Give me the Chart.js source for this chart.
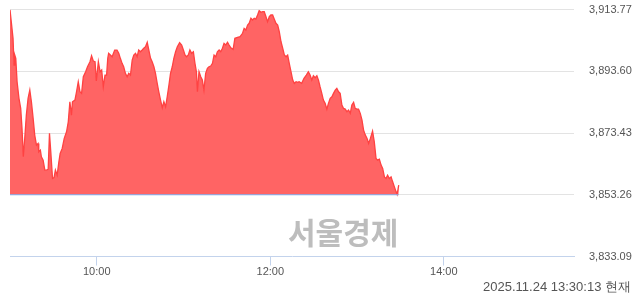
<!DOCTYPE html>
<html>
<head>
<meta charset="utf-8">
<script src="https://cdn.jsdelivr.net/npm/chart.js@4"></script>
<style>
  body { margin: 0; background: #fff; }
  #wrap { position: relative; width: 640px; height: 294px; }
  #mark {
    position: absolute; left: 288px; top: 209px;
    font: bold 30px "Noto Sans CJK KR", sans-serif; color: #bdbdbd;
  }
  #stamp {
    position: absolute; right: 9px; top: 278px;
    font: 13px "Liberation Sans", Arial, sans-serif; color: #555;
  }
</style>
</head>
<body>
<div id="wrap">
  <canvas id="kospiChart" width="640" height="294"></canvas>
  <div id="mark">서울경제</div>
  <div id="stamp">2025.11.24 13:30:13 현재</div>
</div>
<script>
// minutes since 09:00
const times = [0, 2.1, 2.8, 3.3, 4.0, 4.9, 6.2, 7.4, 8.3, 9.2, 10.2, 11.3, 12.5, 13.7, 14.8, 16.0, 17.1, 18.3, 19.4, 19.9,
  21.0, 21.7, 22.9, 24.1, 25.2, 26.4, 27.3, 28.2, 29.4, 30.5, 31.4, 32.6, 33.8, 34.7, 36.1, 37.5, 39.1, 40.3, 41.4, 42.5,
  43.2, 44.9, 46.0, 47.2, 48.4, 49.5, 50.7, 52.3, 53.6, 55.3, 56.4, 57.6, 58.8, 59.7, 61.1, 62.3, 63.4, 64.5, 65.7, 66.8,
  67.6, 68.2, 69.4, 70.6, 72.4, 74.0, 75.2, 76.3, 77.5, 78.6, 79.8, 81.0, 82.1, 83.3, 84.5, 85.6, 86.8, 87.9, 89.0, 90.2,
  91.4, 92.5, 93.7, 94.9, 96.0, 97.2, 98.3, 99.5, 100.6, 101.8, 102.9, 104.1, 105.3, 106.4, 107.6, 108.7, 109.9, 111.0, 112.2, 113.3,
  114.5, 115.7, 117.3, 118.7, 119.9, 121.0, 122.1, 123.3, 124.4, 125.6, 126.8, 127.9, 128.9, 129.6, 130.7, 131.9, 133.0, 134.1, 135.3, 136.5,
  137.6, 138.8, 140.0, 141.1, 142.3, 143.4, 144.6, 145.7, 146.9, 148.0, 149.2, 150.4, 151.5, 152.7, 154.3, 155.5, 157.3, 159.1, 160.8, 161.9,
  163.1, 164.3, 165.4, 166.6, 167.7, 168.9, 170.0, 171.2, 172.3, 173.5, 174.7, 175.8, 177.0, 178.1, 179.3, 180.4, 181.6, 182.7, 183.9, 185.1,
  186.2, 187.4, 188.6, 189.7, 190.9, 192.0, 193.1, 194.3, 195.5, 196.6, 197.8, 199.0, 199.9, 201.7, 203.3, 204.9, 206.3, 207.5, 208.7, 209.8,
  211.0, 212.2, 213.3, 214.4, 215.6, 216.7, 217.9, 219.1, 220.2, 221.4, 222.6, 223.7, 224.9, 226.0, 227.2, 228.3, 229.5, 230.6, 231.8, 233.0,
  234.1, 235.3, 236.4, 237.6, 238.7, 239.9, 241.0, 242.2, 243.4, 244.5, 245.7, 246.9, 248.0, 249.2, 250.7, 251.9, 253.1, 254.2, 255.4, 256.6,
  257.7, 258.9, 260.0, 261.1, 262.3, 263.5, 264.6, 265.8, 267.0, 267.7, 268.8];

const kospi = [3913.7, 3904.36, 3895.63, 3898.90, 3897.82, 3890.17, 3884.74, 3881.47, 3874.93, 3865.65, 3871.67, 3879.28, 3884.74, 3887.45, 3883.63, 3878.20, 3872.74, 3869.48, 3870.03, 3867.28,
  3867.84, 3865.65, 3864.57, 3861.30, 3861.30, 3861.60, 3873.30, 3867.28, 3858.59, 3858.90, 3861.30, 3859.67, 3864.02, 3866.76, 3868.40, 3871.67, 3873.82, 3877.09, 3883.63, 3879.28,
  3883.63, 3884.19, 3886.90, 3890.17, 3886.90, 3886.38, 3891.80, 3893.44, 3895.07, 3896.71, 3898.67, 3896.93, 3896.71, 3890.40, 3896.71, 3893.44, 3893.99, 3888.53, 3892.36, 3892.36,
  3897.82, 3899.45, 3898.90, 3898.34, 3900.53, 3900.53, 3899.45, 3897.82, 3896.18, 3895.07, 3892.91, 3891.80, 3892.91, 3892.36, 3897.26, 3898.90, 3899.45, 3898.34, 3900.53, 3899.97,
  3900.53, 3901.09, 3901.61, 3903.05, 3900.53, 3897.82, 3896.71, 3895.07, 3892.91, 3889.64, 3886.90, 3884.19, 3881.67, 3883.63, 3882.00, 3885.26, 3889.09, 3892.91, 3895.07, 3897.82,
  3899.97, 3901.61, 3902.92, 3902.17, 3900.53, 3898.90, 3898.34, 3898.90, 3900.53, 3899.45, 3899.97, 3896.18, 3893.44, 3886.90, 3893.44, 3891.80, 3890.72, 3887.45, 3892.91, 3894.55,
  3895.07, 3895.30, 3896.18, 3898.90, 3898.34, 3899.97, 3900.53, 3899.97, 3901.09, 3902.72, 3902.17, 3903.05, 3902.17, 3901.28, 3900.76, 3904.36, 3904.68, 3904.88, 3905.99, 3907.62,
  3907.07, 3908.70, 3909.26, 3910.89, 3910.34, 3910.89, 3910.66, 3911.97, 3913.38, 3912.85, 3913.05, 3913.05, 3911.42, 3909.78, 3911.42, 3911.97, 3911.97, 3910.66, 3909.26, 3908.70,
  3906.51, 3903.24, 3901.09, 3898.90, 3898.34, 3898.90, 3896.18, 3893.44, 3890.72, 3889.64, 3890.17, 3889.97, 3890.17, 3889.64, 3891.28, 3892.36, 3893.44, 3892.36, 3890.72, 3892.13,
  3891.48, 3892.13, 3890.72, 3888.53, 3886.38, 3884.19, 3883.11, 3881.24, 3883.11, 3884.74, 3885.26, 3886.38, 3887.45, 3888.01, 3886.90, 3886.38, 3882.55, 3881.47, 3881.24, 3880.36,
  3880.92, 3879.84, 3882.55, 3883.43, 3881.47, 3881.24, 3881.24, 3879.84, 3877.65, 3874.38, 3872.74, 3871.67, 3870.03, 3871.67, 3874.05, 3870.55, 3865.13, 3864.57, 3864.90, 3862.94,
  3861.86, 3859.11, 3858.59, 3859.67, 3858.59, 3859.11, 3857.48, 3855.84, 3854.21, 3853.36, 3856.40];

const prevClose = 3853.26;
const yTicks = [3833.09, 3853.26, 3873.43, 3893.60, 3913.77];
const xTicks = [60, 180, 300];
const xLabels = ['10:00', '12:00', '14:00'];

const points = times.map((t, i) => ({ x: t, y: kospi[i] }));
const baseline = [{ x: times[0], y: prevClose }, { x: times[times.length - 1], y: prevClose }];

const ctx = document.getElementById('kospiChart').getContext('2d');
new Chart(ctx, {
    type: 'line',
    data: {
        datasets: [{
            data: baseline,
            borderColor: '#7eaef0',
            borderWidth: 1,
            pointRadius: 0,
            fill: false
        }, {
            data: points,
            borderColor: '#ff4242',
            backgroundColor: '#ff6464',
            borderWidth: 1.3,
            pointRadius: 0,
            tension: 0,
            fill: { value: prevClose }
        }]
    },
    options: {
        responsive: false,
        animation: false,
        layout: { padding: { left: 10, right: 0, top: 9.5, bottom: 0 } },
        plugins: { legend: { display: false }, tooltip: { enabled: false } },
        scales: {
            x: {
                type: 'linear',
                min: 0,
                max: 390,
                afterBuildTicks: scale => { scale.ticks = xTicks.map(v => ({ value: v })); },
                afterFit: scale => {
                    scale.height = 37.5;
                    scale.paddingLeft = 0;
                    scale.paddingRight = 0;
                },
                ticks: {
                    callback: v => xLabels[xTicks.indexOf(v)],
                    font: { family: 'Liberation Sans', size: 11 },
                    color: '#555',
                    padding: 0,
                    maxRotation: 0
                },
                grid: { drawOnChartArea: false, tickLength: 9, color: '#c3d3ec' },
                border: { color: '#c3d3ec' }
            },
            y: {
                position: 'right',
                min: yTicks[0],
                max: yTicks[yTicks.length - 1],
                afterBuildTicks: scale => { scale.ticks = yTicks.map(v => ({ value: v })); },
                afterFit: scale => {
                    scale.width = 66;
                    scale.paddingTop = 0;
                    scale.paddingBottom = 0;
                },
                ticks: {
                    callback: v => v.toLocaleString('en-US', { minimumFractionDigits: 2, maximumFractionDigits: 2 }),
                    font: { family: 'Liberation Sans', size: 11 },
                    color: '#555',
                    padding: 15
                },
                grid: {
                    drawTicks: false,
                    color: c => c.tick && c.tick.value === yTicks[0] ? 'rgba(0,0,0,0)' : '#e3e3e3'
                },
                border: { display: false }
            }
        }
    }
});
</script>
</body>
</html>
